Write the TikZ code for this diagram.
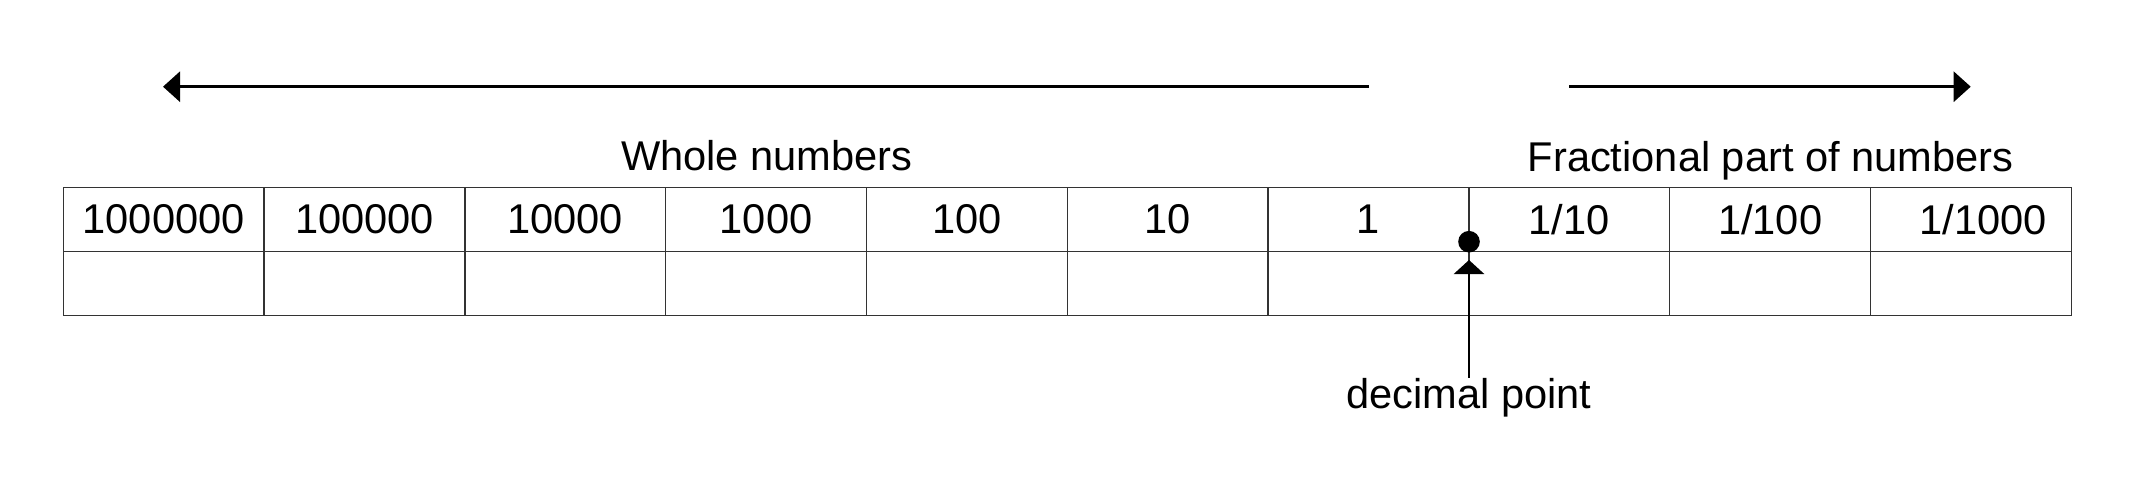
\documentclass[tikz,border=0pt]{standalone}
\usepackage{fontspec}
\setmainfont{Liberation Sans}
\usetikzlibrary{arrows.meta}
\begin{document}
\begin{tikzpicture}[x=1pt,y=-1pt,
  cell/.style={draw=black!80, line width=1.3pt, minimum width=200.8pt, minimum height=64pt,
    inner sep=0pt, outer sep=0pt, anchor=north west, font=\fontsize{41.6}{50}\selectfont},
  lbl/.style={inner sep=0pt, outer sep=0pt, anchor=base, font=\fontsize{41.6}{50}\selectfont},
  bigarrow/.style={line width=2.7pt, -{Triangle[length=17pt,width=30pt]}},
  dparrow/.style={line width=2.7pt, -{Triangle[length=14pt,width=30pt]}}]
\useasboundingbox (0,0) rectangle (2147,501);
% table
\foreach \t [count=\i from 0] in {1000000,100000,10000,1000,100,10,1,1/10,1/100,{}} {
  \node[cell] (t\i) at ({63.3+200.8*\i},187.3) {\t};
  \node[cell] (b\i) at ({63.3+200.8*\i},251.3) {};
}
\node[lbl, anchor=center] (t9txt) at ([xshift=12.5pt]t9.center) {1/1000};
% headings
\node[lbl] (whole) at (766.7,170.7) {Whole numbers};
\node[lbl] (frac) at (1770.5,171) {Fractional part of numbers};
% direction arrows
\coordinate (lstart) at (1369,86.7);
\coordinate (ltip) at (163,86.7);
\coordinate (rstart) at (1569.3,86.7);
\coordinate (rtip) at (1970.7,86.7);
\draw[bigarrow] (lstart) -- (ltip);
\draw[bigarrow] (rstart) -- (rtip);
% decimal point
\node[circle, fill=black, inner sep=0pt, minimum size=21.6pt] (dot) at (1469,241.7) {};
\node[lbl] (dp) at (1469,408) {decimal point};
\coordinate (dptip) at (1469,260);
\draw[dparrow] (dp.north) -- (dptip);
\end{tikzpicture}
\end{document}
